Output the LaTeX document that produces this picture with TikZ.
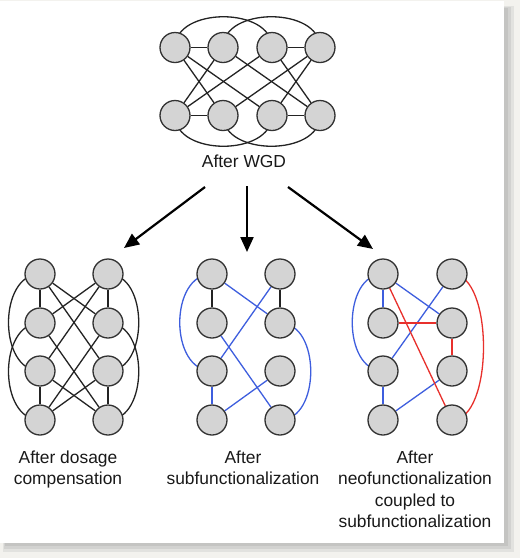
\documentclass[tikz,border=0pt]{standalone}
\usepackage{fontspec}
\setmainfont{Liberation Sans}
\usetikzlibrary{arrows.meta}
\pgfdeclarelayer{panel}
\pgfdeclarelayer{bg}
\pgfsetlayers{panel,bg,main}
\definecolor{pagebg}{RGB}{243,242,238}
\definecolor{shadowA}{RGB}{226,226,223}
\definecolor{shadowB}{RGB}{210,210,208}
\definecolor{shadowC}{RGB}{196,196,194}
\definecolor{nodefill}{RGB}{212,212,212}
\definecolor{nodeline}{RGB}{50,50,50}
\definecolor{edgecol}{RGB}{35,35,35}
\definecolor{blueedge}{RGB}{62,94,222}
\definecolor{rededge}{RGB}{232,48,44}
\definecolor{labcol}{RGB}{25,25,25}
\begin{document}
\begin{tikzpicture}[x=1pt,y=-1pt,
  gn/.style={circle,minimum size=30pt,inner sep=0pt,fill=nodefill,draw=nodeline,line width=1.3pt},
  ed/.style={line width=1.3pt,draw=edgecol},
  be/.style={line width=1.3pt,draw=blueedge},
  re/.style={line width=1.3pt,draw=rededge},
  lab/.style={font=\fontsize{17.4}{21.5}\selectfont,align=center,inner sep=0pt,text=labcol},
  arr/.style={line width=2.2pt,draw=black,-{Triangle[length=15pt,width=13pt]}}]
\useasboundingbox (0,0) rectangle (520,558);
% background and panel
\begin{pgfonlayer}{panel}
\fill[pagebg] (0,0) rectangle (520,558);
\fill[shadowA] (3,6) rectangle (514,552);
\fill[shadowB] (4,7) rectangle (511,549);
\fill[shadowC] (5,8) rectangle (508,546);
\fill[white] (0,1) rectangle (504,543);
\end{pgfonlayer}

% ---------- top graph ----------
\node[gn] (t1) at (175,47.5) {};
\node[gn] (t2) at (223,47.5) {};
\node[gn] (t3) at (272,47.5) {};
\node[gn] (t4) at (320,47.5) {};
\node[gn] (b1) at (175,115.5) {};
\node[gn] (b2) at (223,115.5) {};
\node[gn] (b3) at (272,115.5) {};
\node[gn] (b4) at (320,115.5) {};
\node[lab,anchor=base] (wgd) at (244,167) {After WGD};

% ---------- dosage compensation ----------
\node[gn] (dL1) at (40,274) {};
\node[gn] (dL2) at (40,323) {};
\node[gn] (dL3) at (40,371) {};
\node[gn] (dL4) at (40,420) {};
\node[gn] (dR1) at (108,274) {};
\node[gn] (dR2) at (108,323) {};
\node[gn] (dR3) at (108,371) {};
\node[gn] (dR4) at (108,420) {};
\node[lab,anchor=north] (ldc) at (68,450.5) {After dosage\\compensation};

% ---------- subfunctionalization ----------
\node[gn] (sL1) at (212,274) {};
\node[gn] (sL2) at (212,323) {};
\node[gn] (sL3) at (212,371) {};
\node[gn] (sL4) at (212,420) {};
\node[gn] (sR1) at (280,274) {};
\node[gn] (sR2) at (280,323) {};
\node[gn] (sR3) at (280,371) {};
\node[gn] (sR4) at (280,420) {};
\node[lab,anchor=north] (lsf) at (243,450.5) {After\\subfunctionalization};

% ---------- neofunctionalization ----------
\node[gn] (nL1) at (383,274) {};
\node[gn] (nL2) at (383,323) {};
\node[gn] (nL3) at (383,371) {};
\node[gn] (nL4) at (383,420) {};
\node[gn] (nR1) at (452,274) {};
\node[gn] (nR2) at (452,323) {};
\node[gn] (nR3) at (452,371) {};
\node[gn] (nR4) at (452,420) {};
\node[lab,anchor=north] (lnf) at (415,450.5) {After\\neofunctionalization\\coupled to\\subfunctionalization};

% arrow end points
\coordinate (al0) at (205,187);
\coordinate (al1) at (124,248);
\coordinate (am0) at (247,186);
\coordinate (am1) at (247,252);
\coordinate (ar0) at (288,187);
\coordinate (ar1) at (373,249);
\draw[arr] (al0) -- (al1);
\draw[arr] (am0) -- (am1);
\draw[arr] (ar0) -- (ar1);

\begin{pgfonlayer}{bg}
% top graph edges
\draw[ed] (t1) -- (t2);
\draw[ed] (t3) -- (t4);
\draw[ed] (b1) -- (b2);
\draw[ed] (b3) -- (b4);
\draw[ed] (t1) -- (b2);
\draw[ed] (t1) -- (b3);
\draw[ed] (t2) -- (b1);
\draw[ed] (t2) -- (b4);
\draw[ed] (t3) -- (b1);
\draw[ed] (t3) -- (b4);
\draw[ed] (t4) -- (b2);
\draw[ed] (t4) -- (b3);
\draw[ed] (t1.center) .. controls +(0,-41) and +(0,-41) .. (t3.center);
\draw[ed] (t2.center) .. controls +(0,-41) and +(0,-41) .. (t4.center);
\draw[ed] (b1.center) .. controls +(0,41) and +(0,41) .. (b3.center);
\draw[ed] (b2.center) .. controls +(0,41) and +(0,41) .. (b4.center);

% dosage compensation edges
\draw[ed] (dL1) -- (dL2);
\draw[ed] (dL3) -- (dL4);
\draw[ed] (dR1) -- (dR2);
\draw[ed] (dR3) -- (dR4);
\draw[ed] (dL1) -- (dR2);
\draw[ed] (dL1) -- (dR3);
\draw[ed] (dL2) -- (dR1);
\draw[ed] (dL2) -- (dR4);
\draw[ed] (dL3) -- (dR1);
\draw[ed] (dL3) -- (dR4);
\draw[ed] (dL4) -- (dR2);
\draw[ed] (dL4) -- (dR3);
\draw[ed] (dL1.center) .. controls +(-42,0) and +(-42,0) .. (dL3.center);
\draw[ed] (dL2.center) .. controls +(-42,0) and +(-42,0) .. (dL4.center);
\draw[ed] (dR1.center) .. controls +(41,0) and +(41,0) .. (dR3.center);
\draw[ed] (dR2.center) .. controls +(41,0) and +(41,0) .. (dR4.center);

% subfunctionalization edges
\draw[ed] (sL1) -- (sL2);
\draw[ed] (sR1) -- (sR2);
\draw[be] (sL1.center) .. controls +(-43,0) and +(-43,0) .. (sL3.center);
\draw[be] (sL1) -- (sR2);
\draw[be] (sR1) -- (sL3);
\draw[be] (sL2) -- (sR4);
\draw[be] (sL3) -- (sL4);
\draw[be] (sL4) -- (sR3);
\draw[be] (sR2.center) .. controls +(41,0) and +(41,0) .. (sR4.center);

% neofunctionalization edges
\draw[be] (nL1.center) .. controls +(-41,0) and +(-41,0) .. (nL3.center);
\draw[be] (nL1) -- (nL2);
\draw[be] (nL1) -- (nR2);
\draw[be] (nR1) -- (nL3);
\draw[be] (nL3) -- (nL4);
\draw[be] (nL4) -- (nR3);
\draw[re] (nL2) -- (nR2);
\draw[re] (nL1) -- (nR4);
\draw[re] (nR2) -- (nR3);
\draw[re] (nR1.center) .. controls +(42,0) and +(42,0) .. (nR4.center);
\end{pgfonlayer}
\end{tikzpicture}
\end{document}
